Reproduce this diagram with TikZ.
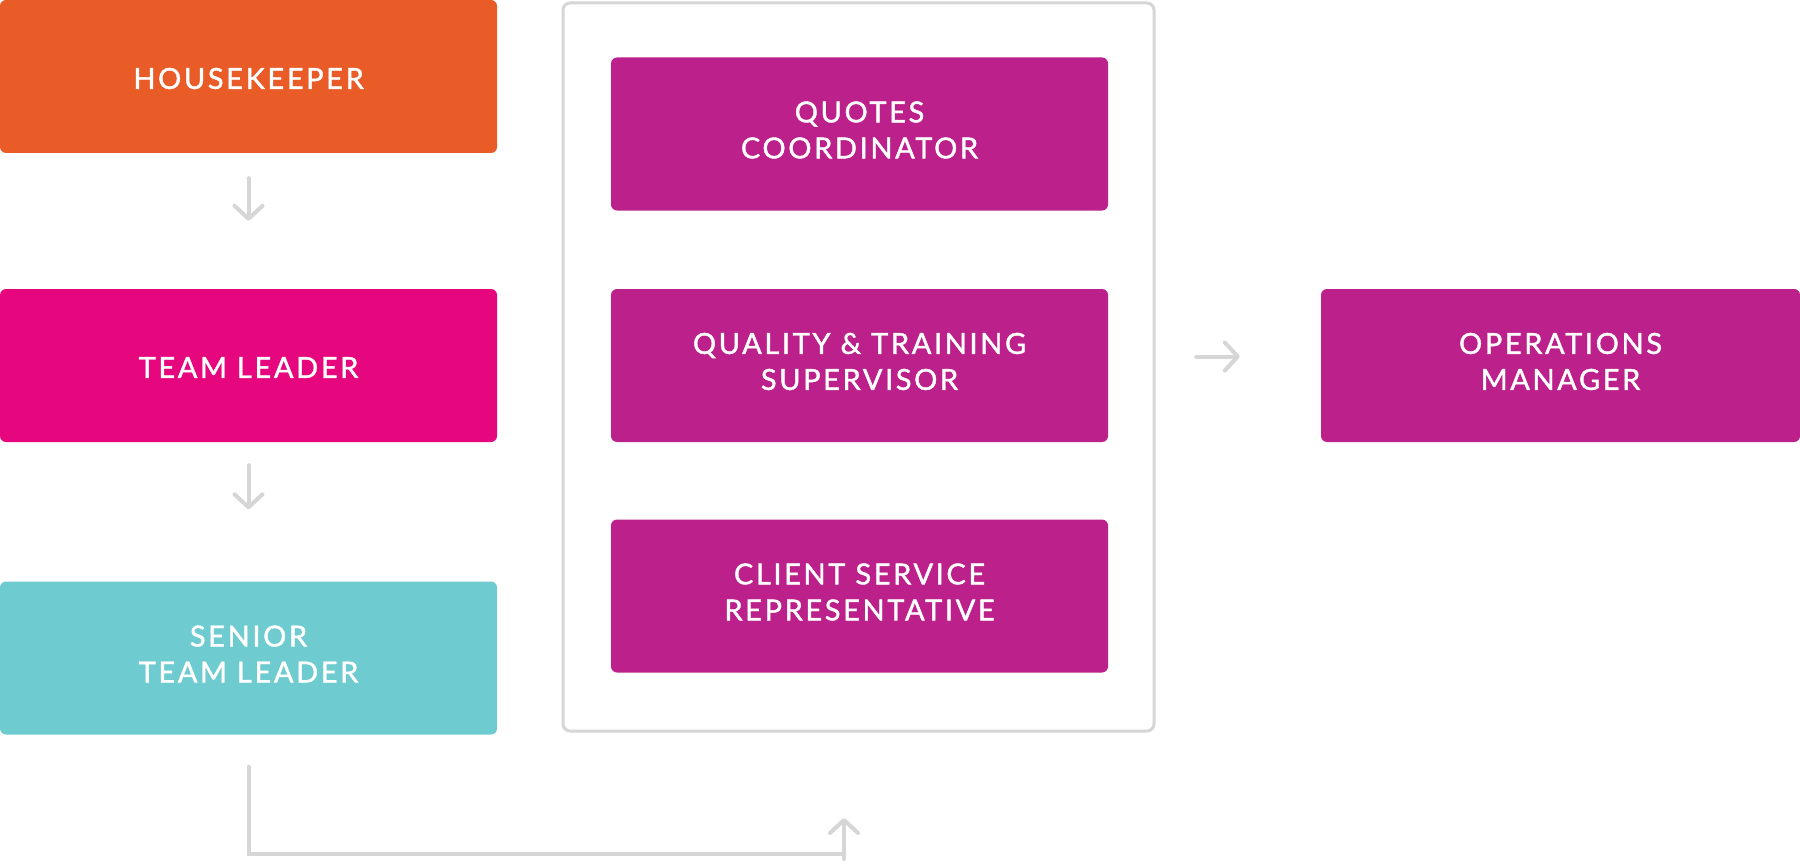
\documentclass[tikz,border=0pt]{standalone}
\usepackage{fontspec}
\setmainfont{Lato}[LetterSpace=9,FakeBold=1.3]
\usetikzlibrary{arrows.meta}
\definecolor{cOrange}{HTML}{E95C27}
\definecolor{cPink}{HTML}{E6077F}
\definecolor{cTeal}{HTML}{6ECBD0}
\definecolor{cPurple}{HTML}{BC208A}
\definecolor{cLine}{HTML}{D6D6D6}
\begin{document}
\begin{tikzpicture}[x=1pt,y=-1pt,
  box/.style={rounded corners=6pt, inner sep=0pt, minimum height=153pt},
  txt/.style={inner sep=0pt, text=white, align=center, font=\fontsize{29}{36}\selectfont},
  one/.style={label={[txt,yshift=-2pt]center:#1}},
  two/.style={label={[txt,yshift=4pt]center:#1}},
  leftbox/.style={box, minimum width=497pt},
  midbox/.style={box, minimum width=497pt, fill=cPurple},
  arr/.style={draw=cLine, line width=4pt, line cap=round,
    -{Straight Barb[length=13pt,width=28pt,line width=4pt,round]}},
  conn/.style={draw=cLine, line width=4pt, line cap=round}]
\useasboundingbox (0,0) rectangle (1800,864);
\fill[white] (0,0) rectangle (1800,864);
% container
\draw[draw=cLine, line width=3pt, rounded corners=7pt] (563,3) rectangle (1154,731);
% left column
\node[leftbox, fill=cOrange, one={HOUSEKEEPER}] (hk) at (248.5,76.5) {};
\node[leftbox, fill=cPink, one={TEAM LEADER}] (tl) at (248.5,365.5) {};
\node[leftbox, fill=cTeal, two={SENIOR\\TEAM LEADER}] (stl) at (248.5,658) {};
% middle column
\node[midbox, two={QUOTES\\COORDINATOR}] (qc) at (859.5,134) {};
\node[midbox, two={QUALITY \& TRAINING\\SUPERVISOR}] (qt) at (859.5,365.5) {};
\node[midbox, two={CLIENT SERVICE\\REPRESENTATIVE}] (cs) at (859.5,596) {};
% right
\node[box, minimum width=479pt, fill=cPurple, two={OPERATIONS\\MANAGER}] (om) at (1560.5,365.5) {};
% arrows
\draw[arr] ([yshift=-25pt]hk.south) -- ([yshift=68pt]tl.north);
\draw[arr] ([yshift=-23pt]tl.south) -- ([yshift=72pt]stl.north);
\draw[arr] ([xshift=88pt,yshift=9pt]qt.east) -- ([xshift=-81pt,yshift=9pt]om.west);
\coordinate (b0) at ([yshift=-32pt]stl.south);
\coordinate (b1) at (b0 |- 0,854);
\coordinate (b2) at (844,854);
\coordinate (b3) at (844,859);
\coordinate (b4) at (844,818);
\draw[conn] (b0) -- (b1) -- (b2);
\draw[arr] (b3) -- (b4);
\end{tikzpicture}
\end{document}
